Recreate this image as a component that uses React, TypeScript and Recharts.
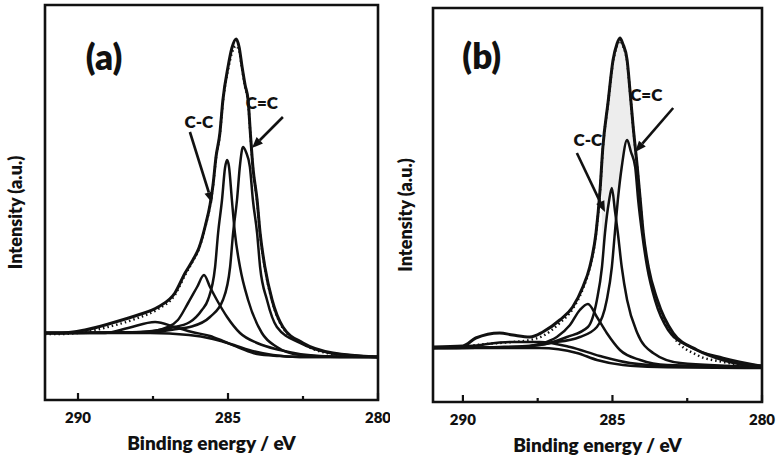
import { Area, ComposedChart, Label, Line, ReferenceArea, ReferenceDot, ReferenceLine, XAxis, YAxis } from "recharts";

type Pt = [number, number];

// binding energy (eV) / intensity (a.u.)

// (a)
const measuredA: Pt[] = [
  [291.1, 67], [290.53, 67], [289.77, 70], [288.87, 77], [288.0, 85], [287.33, 93], [286.77, 107],
  [286.43, 127], [286.17, 140], [285.97, 152], [285.75, 175], [285.6, 195], [285.5, 215], [285.4, 243],
  [285.27, 267], [285.17, 300], [285.0, 333], [284.87, 352], [284.73, 361], [284.63, 353], [284.53, 333],
  [284.43, 315], [284.33, 300], [284.25, 265], [284.17, 233], [284.03, 200], [283.93, 167], [283.77, 133],
  [283.53, 100], [283.17, 73], [282.5, 57], [281.5, 47], [280.0, 43],
];
const fitA: Pt[] = [
  [291.1, 66], [290.53, 66], [289.77, 68], [288.87, 74], [288.0, 82], [287.33, 91], [286.77, 105],
  [286.43, 125], [286.17, 139], [285.97, 151], [285.75, 174], [285.6, 194], [285.5, 214], [285.4, 242],
  [285.27, 266], [285.17, 298], [285.0, 330], [284.87, 347], [284.73, 354], [284.63, 349], [284.53, 331],
  [284.43, 313], [284.33, 298], [284.25, 264], [284.17, 232], [284.03, 199], [283.93, 166], [283.77, 132],
  [283.53, 99], [283.17, 72], [282.5, 56], [281.5, 46], [280.0, 43],
];
const cdcA: Pt[] = [
  [291.1, 67], [287.6, 68], [286.7, 71], [286.27, 73], [285.6, 83], [285.17, 100], [284.93, 133],
  [284.83, 167], [284.7, 200], [284.6, 235], [284.5, 253], [284.4, 248], [284.27, 233], [284.17, 200],
  [284.03, 167], [283.93, 133], [283.7, 100], [283.37, 73], [282.6, 57], [281.6, 47], [280.0, 43],
];
const ccA: Pt[] = [
  [291.1, 67], [287.93, 68], [286.93, 72], [286.27, 78], [285.87, 90], [285.67, 100], [285.43, 133],
  [285.33, 167], [285.2, 200], [285.1, 232], [285.03, 240], [284.97, 234], [284.87, 200], [284.77, 167],
  [284.6, 133], [284.33, 100], [283.87, 67], [283.37, 53], [282.6, 45], [281.27, 43], [280.0, 43],
];
const peak3A: Pt[] = [
  [291.1, 67], [287.77, 68], [287.0, 73], [286.67, 80], [286.33, 97], [286.03, 113], [285.8, 125],
  [285.6, 113], [285.37, 100], [285.03, 83], [284.6, 67], [284.03, 57], [283.27, 50], [281.93, 44], [280.0, 43],
];
const peak4A: Pt[] = [
  [291.1, 67], [289.1, 67], [288.33, 72], [287.43, 78], [286.77, 73], [286.2, 68], [285.6, 64],
  [285.17, 59], [284.6, 52], [284.03, 46], [283.3, 44], [282.6, 43], [280.0, 43],
];
const backgroundA: Pt[] = [
  [291.1, 67], [287.6, 67], [286.3, 65], [285.5, 61], [284.8, 55], [284.3, 50], [283.5, 45], [282.6, 43], [280.0, 43],
];

// (b)
const measuredB: Pt[] = [
  [291.0, 55], [290.0, 56], [289.57, 64], [288.77, 69], [288.33, 67], [287.76, 65], [287.33, 70],
  [286.76, 82], [286.33, 95], [285.99, 115], [285.76, 135], [285.55, 169], [285.42, 210], [285.32, 255],
  [285.15, 299], [284.98, 342], [284.85, 358], [284.75, 364], [284.65, 358], [284.51, 342], [284.41, 310],
  [284.31, 276], [284.17, 235], [284.07, 202], [283.97, 169], [283.8, 135], [283.5, 102], [282.97, 69],
  [282.17, 52], [281.3, 42], [280.73, 38], [280.0, 36],
];
const fitB: Pt[] = [
  [291.0, 54], [290.0, 55], [289.57, 57], [288.77, 59], [288.33, 60], [287.76, 62], [287.33, 66],
  [286.76, 79], [286.33, 93], [285.99, 113], [285.76, 134], [285.55, 168], [285.42, 209], [285.32, 254],
  [285.15, 298], [284.98, 340], [284.85, 356], [284.75, 361], [284.65, 356], [284.51, 340], [284.41, 309],
  [284.31, 275], [284.17, 234], [284.07, 201], [283.97, 168], [283.8, 134], [283.5, 100], [282.97, 66],
  [282.17, 47], [281.3, 40], [280.73, 37], [280.0, 36],
];
const cdcB: Pt[] = [
  [291.0, 54], [288.1, 55], [287.09, 59], [286.09, 65], [285.52, 75], [285.19, 102], [285.02, 135],
  [284.92, 169], [284.82, 202], [284.69, 235], [284.51, 262], [284.38, 250], [284.24, 235], [284.14, 202],
  [284.01, 169], [283.84, 135], [283.58, 102], [283.14, 72], [282.4, 55], [281.3, 44], [280.0, 36],
];
const ccB: Pt[] = [
  [291.0, 54], [288.77, 55], [287.43, 57], [286.52, 65], [285.82, 75], [285.52, 102], [285.35, 135],
  [285.25, 169], [285.12, 200], [285.02, 214], [284.92, 192], [284.82, 169], [284.69, 135], [284.51, 102],
  [284.17, 69], [283.64, 49], [282.73, 39], [280.0, 35],
];
const peak3B: Pt[] = [
  [291.0, 54], [288.1, 55], [287.43, 58], [286.86, 65], [286.42, 77], [286.09, 92], [285.82, 98],
  [285.52, 85], [285.19, 69], [284.75, 52], [284.07, 42], [283.17, 37], [280.0, 35],
];
const peak4B: Pt[] = [
  [291.0, 54], [289.77, 56], [288.43, 60], [287.43, 60], [286.42, 55], [285.42, 46], [284.41, 39], [283.07, 36], [280.0, 35],
];
const backgroundB: Pt[] = [
  [291.0, 54], [287.43, 54], [286.19, 49], [285.52, 42], [284.65, 37], [283.5, 35], [280.0, 34],
];
// shaded part of (b) between the envelope and the C-C / C=C peaks: [eV, low, high]
const stippleB: [number, number, number][] = [
  [285.36, 200, 215], [285.32, 150, 255], [285.15, 190, 299], [285.02, 214, 342], [284.92, 192, 350],
  [284.85, 192, 358], [284.75, 218, 364], [284.65, 243, 358], [284.51, 262, 342], [284.41, 253, 310],
  [284.31, 243, 276], [284.17, 212, 235], [284.07, 186, 202], [283.97, 170, 170],
];

const energyTicks = [290, 287.5, 285, 282.5, 280];
const labelledTicks = [290, 285, 280];

const INK = "#111";
const TICK_GAP = 12;
const rows = (pts: Pt[]) => pts.map(([be, v]) => ({ be, v }));

function EnergyTick({ x, y, payload }: any) {
  const major = labelledTicks.includes(payload.value);
  const axisY = y - TICK_GAP;
  return (
    <g>
      <line x1={x} x2={x} y1={axisY} y2={axisY - (major ? 7 : 4)} stroke={INK} strokeWidth={2.2} />
      {major && (
        <text x={x} y={y} dy="0.72em" textAnchor="middle" fontSize={15} fontWeight={800} fill={INK}>
          {payload.value}
        </text>
      )}
    </g>
  );
}

function Arrow({ x1, y1, x2, y2 }: any) {
  const dx = x2 - x1;
  const dy = y2 - y1;
  const len = Math.hypot(dx, dy) || 1;
  const ux = dx / len;
  const uy = dy / len;
  const bx = x2 - ux * 11;
  const by = y2 - uy * 11;
  return (
    <g>
      <line x1={x1} y1={y1} x2={bx} y2={by} stroke={INK} strokeWidth={2.6} />
      <polygon
        points={`${x2},${y2} ${bx - uy * 4.5},${by + ux * 4.5} ${bx + uy * 4.5},${by - ux * 4.5}`}
        fill={INK}
      />
    </g>
  );
}

// rotated y title, drawn straight into the axis band
function YTitle({ viewBox }: any) {
  const cx = viewBox.x + 15;
  const cy = viewBox.y + viewBox.height / 2 + 10;
  return (
    <text
      x={cx}
      y={cy}
      transform={`rotate(-90, ${cx}, ${cy})`}
      textAnchor="middle"
      dominantBaseline="central"
      fontSize={18}
      fontWeight={800}
      fill={INK}
    >
      Intensity (a.u.)
    </text>
  );
}

type PanelProps = {
  left: number;
  width: number;
  margin: { top: number; right: number; bottom: number; left: number };
  yWidth: number;
  xDomain: [number, number];
  yDomain: [number, number];
  measured: Pt[];
  fit: Pt[];
  parts: Pt[][];
  background: Pt[];
  stipple?: [number, number, number][];
  arrows: { from: Pt; to: Pt }[];
  notes: { text: string; at: Pt; size: number }[];
};

function Panel(p: PanelProps) {
  return (
    <div style={{ position: "absolute", left: p.left, top: 0 }}>
      <ComposedChart width={p.width} height={460} margin={p.margin}>
        <XAxis
          dataKey="be"
          type="number"
          domain={p.xDomain}
          reversed
          allowDataOverflow
          ticks={energyTicks}
          interval={0}
          tick={<EnergyTick />}
          tickLine={false}
          tickSize={0}
          tickMargin={TICK_GAP}
          axisLine={false}
          height={50}
        >
          <Label
            value="Binding energy / eV"
            position="insideBottom"
            offset={0}
            style={{ fontSize: 19, fontWeight: 800, fill: INK }}
          />
        </XAxis>
        <YAxis type="number" domain={p.yDomain} allowDataOverflow width={p.yWidth} tick={false} tickLine={false} axisLine={false}>
          <Label content={<YTitle />} />
        </YAxis>

        {p.stipple && (
          <Area
            data={p.stipple.map(([be, lo, hi]) => ({ be, band: [lo, hi] }))}
            dataKey="band"
            type="monotone"
            stroke="none"
            fill="#ededed"
            fillOpacity={1}
            isAnimationActive={false}
          />
        )}

        <Line data={rows(p.background)} dataKey="v" type="monotone" stroke={INK} strokeWidth={2.6} dot={false} isAnimationActive={false} />
        {p.parts.map((part, i) => (
          <Line key={i} data={rows(part)} dataKey="v" type="monotone" stroke={INK} strokeWidth={2.5} dot={false} isAnimationActive={false} />
        ))}
        <Line data={rows(p.fit)} dataKey="v" type="monotone" stroke={INK} strokeWidth={2.4} strokeDasharray="1.5 3" dot={false} isAnimationActive={false} />
        <Line data={rows(p.measured)} dataKey="v" type="monotone" stroke={INK} strokeWidth={3} dot={false} isAnimationActive={false} />

        <ReferenceArea
          x1={p.xDomain[1]}
          x2={p.xDomain[0]}
          y1={p.yDomain[0]}
          y2={p.yDomain[1]}
          fill="none"
          fillOpacity={0}
          stroke={INK}
          strokeWidth={2.6}
          ifOverflow="visible"
        />

        {p.arrows.map((a, i) => (
          <ReferenceLine
            key={i}
            segment={[{ x: a.from[0], y: a.from[1] }, { x: a.to[0], y: a.to[1] }]}
            shape={(props: any) => <Arrow {...props} />}
          />
        ))}
        {p.notes.map((n, i) => (
          <ReferenceDot key={i} x={n.at[0]} y={n.at[1]} r={0} fill="none" stroke="none">
            <Label value={n.text} position="center" style={{ fontSize: n.size, fontWeight: 800, fill: INK }} />
          </ReferenceDot>
        ))}
      </ComposedChart>
    </div>
  );
}

export default function App() {
  return (
    <div
      style={{
        position: "absolute",
        left: 0,
        top: 0,
        width: 781,
        height: 460,
        background: "#fff",
        fontFamily: "Lato, 'Open Sans', sans-serif",
      }}
    >
      <Panel
        left={0}
        width={390}
        margin={{ top: 5, right: 12, bottom: 10, left: 0 }}
        yWidth={45}
        xDomain={[280, 291.1]}
        yDomain={[0, 395]}
        measured={measuredA}
        fit={fitA}
        parts={[peak4A, peak3A, ccA, cdcA]}
        background={backgroundA}
        arrows={[
          { from: [286.27, 268], to: [285.53, 197] },
          { from: [283.17, 283], to: [284.2, 252] },
        ]}
        notes={[
          { text: "(a)", at: [289.13, 342], size: 35 },
          { text: "C-C", at: [285.97, 278], size: 17 },
          { text: "C=C", at: [283.87, 297], size: 17 },
        ]}
      />
      <Panel
        left={390}
        width={391}
        margin={{ top: 8, right: 19, bottom: 8, left: 0 }}
        yWidth={43}
        xDomain={[280, 291]}
        yDomain={[0, 394]}
        measured={measuredB}
        fit={fitB}
        parts={[peak4B, peak3B, ccB, cdcB]}
        background={backgroundB}
        stipple={stippleB}
        arrows={[
          { from: [286.19, 249], to: [285.25, 190] },
          { from: [282.97, 294], to: [284.24, 250] },
        ]}
        notes={[
          { text: "(b)", at: [289.37, 345], size: 35 },
          { text: "C-C", at: [285.82, 262], size: 17 },
          { text: "C=C", at: [283.87, 307], size: 17 },
        ]}
      />
    </div>
  );
}
